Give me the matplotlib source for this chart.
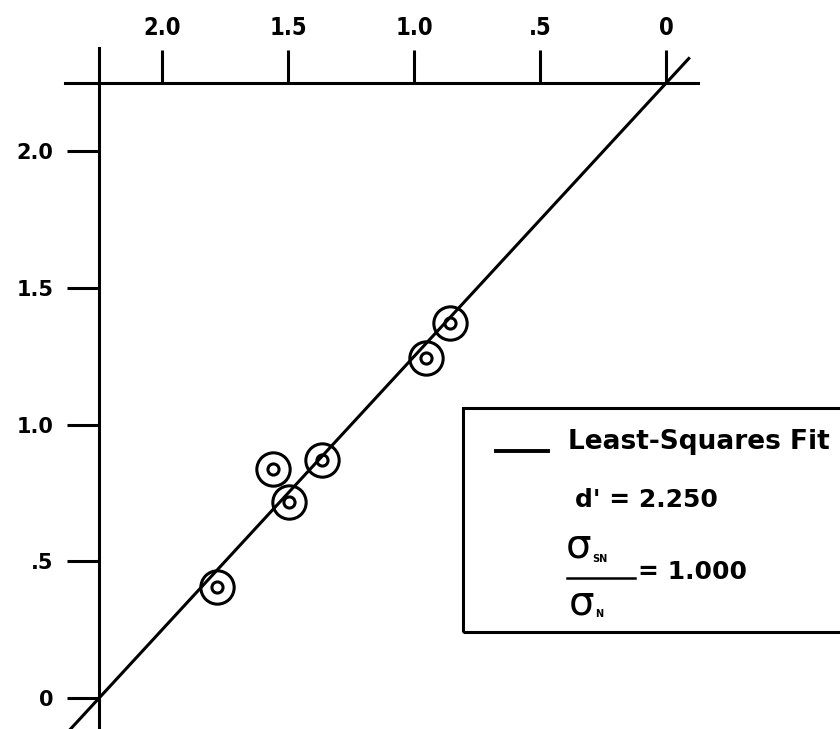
import numpy as np
import matplotlib.pyplot as plt
from matplotlib.patches import Rectangle

# z-score pairs (top axis, left axis) and the least-squares fit
z_top = [1.783, 1.558, 1.495, 1.366, 0.952, 0.859]
z_left = [0.407, 0.840, 0.718, 0.871, 1.244, 1.372]
d_prime = 2.250
sigma_ratio = 1.000

x_ticks = [2.0, 1.5, 1.0, 0.5, 0.0]
x_labels = ['2.0', '1.5', '1.0', '.5', '0']
y_ticks = [0.0, 0.5, 1.0, 1.5, 2.0]
y_labels = ['0', '.5', '1.0', '1.5', '2.0']

fig = plt.figure(figsize=(8.4, 7.29), dpi=100)
ax = fig.add_axes([0, 0, 1, 1])
ax.set_xlim(2.643, -0.690)
ax.set_ylim(-0.113, 2.554)

# axes cross at d' on both scales
for side in ['right', 'bottom']:
    ax.spines[side].set_visible(False)
ax.spines['left'].set_position(('data', d_prime))
ax.spines['top'].set_position(('data', d_prime))
ax.spines['left'].set_bounds(-0.3, 2.378)
ax.spines['top'].set_bounds(2.385, -0.127)
for side in ['left', 'top']:
    ax.spines[side].set_linewidth(2.2)

ax.xaxis.tick_top()
ax.set_xticks(x_ticks)
ax.set_xticklabels(x_labels, fontsize=17, fontstretch='condensed', fontweight='bold')
ax.set_yticks(y_ticks)
ax.set_yticklabels(y_labels, fontsize=15, fontweight='bold')
ax.tick_params(axis='x', direction='out', length=24, width=2.2, pad=7)
ax.tick_params(axis='y', direction='out', length=23, width=2.2, pad=10)

# fitted line: z_left = d' - sigma_ratio * z_top
x_fit = np.array([2.40, -0.09])
ax.plot(x_fit, d_prime - sigma_ratio * x_fit, color='black', lw=2.2, zorder=3)

# double-ring markers
ax.plot(z_top, z_left, 'o', ms=24, mfc='none', mec='black', mew=2.2, zorder=4)
ax.plot(z_top, z_left, 'o', ms=8, mfc='none', mec='black', mew=2.2, zorder=4)

# key box
ax.add_patch(Rectangle((0.551, 0.1335), 0.6, 0.3068, transform=ax.transAxes,
                       fill=False, lw=2.2, ec='black', clip_on=False))
ax.plot([0.590, 0.652], [0.3817, 0.3817], transform=ax.transAxes, color='black', lw=2.8)
ax.text(0.676, 0.384, 'Least-Squares Fit', transform=ax.transAxes,
        fontsize=19, fontweight='bold', va='baseline', ha='left')
ax.text(0.6845, 0.305, "d' = %.3f" % d_prime, transform=ax.transAxes,
        fontsize=18, fontweight='bold', va='baseline', ha='left')

# sigma_SN / sigma_N = ratio
ax.text(0.689, 0.2497, 'σ', transform=ax.transAxes, fontsize=29, ha='center', va='center')
ax.text(0.705, 0.2330, 'SN', transform=ax.transAxes, fontsize=7, fontweight='bold',
        ha='left', va='center')
ax.plot([0.675, 0.756], [0.2071, 0.2071], transform=ax.transAxes, color='black', lw=1.8)
ax.text(0.692, 0.172, 'σ', transform=ax.transAxes, fontsize=29, ha='center', va='center')
ax.text(0.709, 0.158, 'N', transform=ax.transAxes, fontsize=7, fontweight='bold',
        ha='left', va='center')
ax.text(0.7595, 0.2158, '= %.3f' % sigma_ratio, transform=ax.transAxes,
        fontsize=18, fontweight='bold', ha='left', va='center')

fig.savefig('out.png', dpi=100)
